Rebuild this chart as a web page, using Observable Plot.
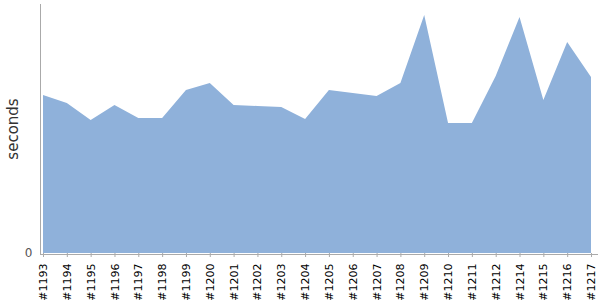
<!DOCTYPE html>
<html>
<head>
<meta charset="utf-8">
<script src="https://cdn.jsdelivr.net/npm/d3@7"></script>
<script src="https://cdn.jsdelivr.net/npm/@observablehq/plot@0.6"></script>
<style>
  html, body { margin: 0; padding: 0; background: #fff; }
  #chart svg { display: block; font-family: "DejaVu Sans", sans-serif; }
</style>
</head>
<body>
<div id="chart"></div>
<script>
const builds = ["#1193","#1194","#1195","#1196","#1197","#1198","#1199","#1200","#1201","#1202","#1203","#1204","#1205","#1206","#1207","#1208","#1209","#1210","#1211","#1212","#1214","#1215","#1216","#1217"];
const seconds = [158, 150, 133, 148, 135, 135, 163, 170, 148, 147, 146, 134, 163, 160, 157, 170, 238, 130, 130, 177, 236, 153, 211, 176];
const yTicks = [0];

const data = builds.map((b, i) => ({index: i, build: b, value: seconds[i]}));
const xTicks = builds.map((b, i) => i);
const font = "DejaVu Sans";

const chart = Plot.plot({
  width: 600,
  height: 300,
  marginLeft: 40,
  marginRight: 2,
  marginTop: 4,
  marginBottom: 47,
  style: {fontFamily: "DejaVu Sans", background: "#fff"},
  x: {type: "linear", domain: [0, builds.length - 1], insetLeft: 3, insetRight: 7},
  y: {domain: [0, 249]},
  marks: [
    Plot.areaY(data, {x: "index", y: "value", fill: "#8fb1da"}),
    Plot.frame({anchor: "left", stroke: "#aaa"}),
    Plot.ruleY([0], {stroke: "#aaa", dy: 1}),
    Plot.axisX(xTicks, {tickFormat: (i) => builds[i], tickRotate: -90, tickSize: 4, tickPadding: 6, stroke: "#aaa", fill: "#000", fontSize: 11, fontFamily: font, label: null}),
    Plot.axisY(yTicks, {tickSize: 0, tickPadding: 8, fill: "#555", fontSize: 12, fontFamily: font, label: null}),
    Plot.text(["seconds"], {frameAnchor: "left", textAnchor: "middle", dx: -27.5, rotate: -90, fontSize: 15, fontFamily: font, fill: "#333"})
  ]
});
document.getElementById("chart").appendChild(chart);
</script>
</body>
</html>
